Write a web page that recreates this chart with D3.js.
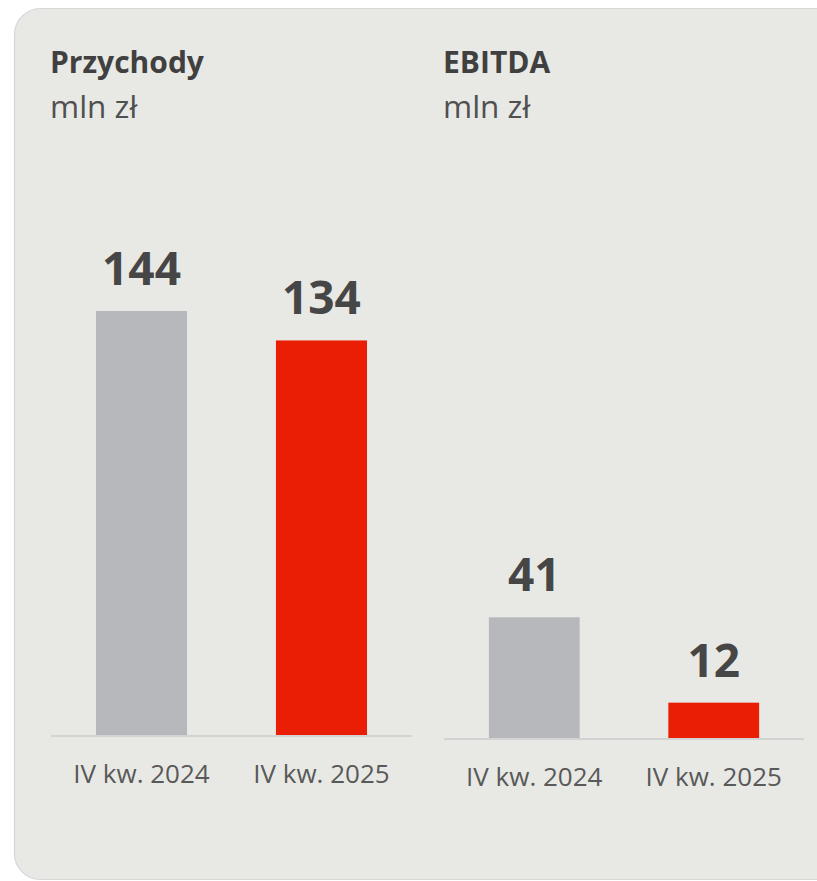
<!DOCTYPE html>
<html>
<head>
<meta charset="utf-8">
<script src="https://cdn.jsdelivr.net/npm/d3@7"></script>
<style>
  html, body { margin: 0; padding: 0; background: #ffffff; }
  svg { display: block; }
</style>
</head>
<body>
<svg id="chart" width="817" height="881"></svg>
<script>
const categories = ["IV kw. 2024", "IV kw. 2025"];
const revenueValues = [144, 134];
const ebitdaValues = [41, 12];
const titles = ["Przychody", "EBITDA"];
const unitLabel = "mln zł";
const barColors = ["#b6b8bc", "#e91e05"];

const svg = d3.select("#chart");
const font = "'Open Sans', 'DejaVu Sans', sans-serif";

// panel background
svg.append("rect")
  .attr("x", 14.5).attr("y", 8.5)
  .attr("width", 840).attr("height", 871)
  .attr("rx", 26).attr("ry", 26)
  .attr("fill", "#e8e9e5")
  .attr("stroke", "#d6d6d6")
  .attr("stroke-width", 1.2);

const y = d3.scaleLinear().domain([0, 144]).range([0, 424]);

const panels = [
  { title: titles[0], values: revenueValues, x0: 51, x1: 412, base: 735, tx: 50 },
  { title: titles[1], values: ebitdaValues, x0: 444, x1: 804, base: 738, tx: 443 }
];

panels.forEach(p => {
  const g = svg.append("g");
  g.append("text")
    .attr("x", p.tx).attr("y", 73)
    .attr("font-family", font).attr("font-weight", 700)
    .attr("font-size", 30).attr("fill", "#404040")
    .text(p.title);
  g.append("text")
    .attr("x", p.tx).attr("y", 118)
    .attr("font-family", font).attr("font-weight", 400)
    .attr("font-size", 31.5).attr("fill", "#505050")
    .text(unitLabel);

  const x = d3.scaleBand().domain(categories).range([p.x0, p.x1])
    .paddingInner(0.494).paddingOuter(0.25);

  const data = categories.map((c, i) => ({ c, v: p.values[i], i }));

  g.selectAll("rect.bar").data(data).join("rect")
    .attr("class", "bar")
    .attr("x", d => x(d.c))
    .attr("width", x.bandwidth())
    .attr("y", d => p.base - y(d.v))
    .attr("height", d => y(d.v))
    .attr("fill", d => barColors[d.i]);

  // baseline
  g.append("line")
    .attr("x1", p.x0).attr("x2", p.x1)
    .attr("y1", p.base + 1).attr("y2", p.base + 1)
    .attr("stroke", "#d3d3d3").attr("stroke-width", 2);

  g.selectAll("text.val").data(data).join("text")
    .attr("class", "val")
    .attr("x", d => x(d.c) + x.bandwidth() / 2)
    .attr("y", d => p.base - y(d.v) - 26)
    .attr("text-anchor", "middle")
    .attr("font-family", font).attr("font-weight", 700)
    .attr("font-size", 46).attr("fill", "#464646")
    .text(d => d.v);

  const axis = d3.axisBottom(x).tickSize(0).tickPadding(0);
  const ag = g.append("g").attr("transform", `translate(0,${p.base})`).call(axis);
  ag.select(".domain").remove();
  ag.selectAll("text")
    .attr("dy", null)
    .attr("y", 48)
    .attr("font-family", font).attr("font-size", 26)
    .attr("fill", "#595959");
});
</script>
</body>
</html>
